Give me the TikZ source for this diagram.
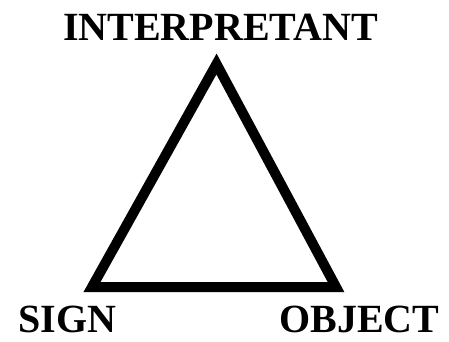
\documentclass[tikz,border=0pt]{standalone}
\usepackage{fontspec}
\setmainfont{Liberation Serif}
\begin{document}
\begin{tikzpicture}[x=1pt, y=-1pt,
  corner/.style={font=\fontsize{40}{46}\selectfont\bfseries, inner sep=0pt, text depth=0pt},
  side/.style={line width=10pt, line join=miter}]
\useasboundingbox (0,0) rectangle (449,341);
\coordinate (apex) at (216.5,64);
\coordinate (left) at (92,287);
\coordinate (right) at (336,287);
\draw[side] (left) -- (apex) -- (right) -- cycle;
\node[corner, anchor=base] (interp) at (220.5,40) {INTERPRETANT};
\node[corner, anchor=base west] (sign) at (18,332) {SIGN};
\node[corner, anchor=base west] (object) at (279,332) {OBJECT};
\end{tikzpicture}
\end{document}
